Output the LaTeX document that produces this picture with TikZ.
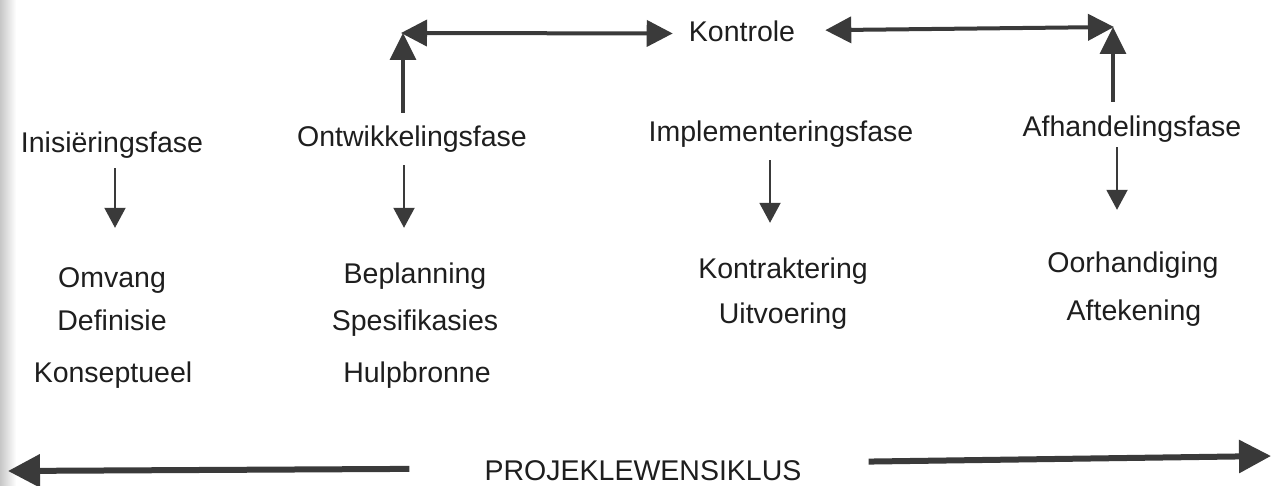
\documentclass[tikz,border=0pt]{standalone}
\usepackage{fontspec}
\setmainfont{Liberation Sans}
\usetikzlibrary{arrows.meta}
\definecolor{ink}{HTML}{1E1E1E}
\definecolor{arr}{HTML}{3A3A3A}
\begin{document}
\begin{tikzpicture}[x=1pt,y=-1pt,
  lbl/.style={anchor=base, inner sep=0pt, text height=21pt, text depth=6pt,
    font=\fontsize{28.5}{34}\selectfont, text=ink},
  darr/.style={draw=arr, line width=2pt, -{Triangle[length=20pt,width=21pt]}},
  uarr/.style={draw=arr, line width=3.5pt, -{Triangle[length=27pt,width=26pt]}},
  karr/.style={draw=arr, line width=4pt,
    {Triangle[length=26pt,width=26pt]}-{Triangle[length=26pt,width=26pt]}},
  barr/.style={draw=arr, line width=6pt, -{Triangle[length=32pt,width=32pt]}}]
\useasboundingbox (0,0) rectangle (1273,486);
\fill[white] (0,0) rectangle (1273,486);
\shade[left color=black!22, right color=white] (0,0) rectangle (16,486);

% phase labels
\node[lbl] (kon) at (742,42) {Kontrole};
\node[lbl] (ini) at (112,153) {Inisiëringsfase};
\node[lbl] (ont) at (412,147) {Ontwikkelingsfase};
\node[lbl] (imp) at (781,142) {Implementeringsfase};
\node[lbl] (afh) at (1132,137) {Afhandelingsfase};

% sub items
\node[lbl] (omv) at (112,287) {Omvang};
\node[lbl] (def) at (112,330) {Definisie};
\node[lbl] (kos) at (113,382) {Konseptueel};
\node[lbl] (bep) at (415,283) {Beplanning};
\node[lbl] (spe) at (415,330) {Spesifikasies};
\node[lbl] (hul) at (417,382) {Hulpbronne};
\node[lbl] (kot) at (783,278) {Kontraktering};
\node[lbl] (uit) at (783,323) {Uitvoering};
\node[lbl] (oor) at (1133,272) {Oorhandiging};
\node[lbl] (aft) at (1134,320) {Aftekening};

\node[lbl] (proj) at (643,480) {PROJEKLEWENSIKLUS};

% free ends
\coordinate (cl) at (401,33);
\coordinate (cr) at (1114,27);
\coordinate (bl) at (8,471);
\coordinate (br) at (1271,456);

% down arrows
\draw[darr, shorten <=9pt, shorten >=38pt] ([xshift=3pt]ini.south) -- ([xshift=3pt]ini.south |- omv.north);
\draw[darr, shorten <=12pt, shorten >=34pt] ([xshift=-8pt]ont.south) -- ([xshift=-8pt]ont.south |- bep.north);
\draw[darr, shorten <=12pt, shorten >=34pt] ([xshift=-11pt]imp.south) -- ([xshift=-11pt]imp.south |- kot.north);
\draw[darr, shorten <=4pt, shorten >=41pt] ([xshift=-15pt]afh.south) -- ([xshift=-15pt]afh.south |- oor.north);

% up arrows to Kontrole line
\draw[uarr, shorten <=13pt] ([xshift=-9pt]ont.north) -- ([xshift=-9pt]ont.north |- cl);
\draw[uarr, shorten <=14pt] ([xshift=-19pt]afh.north) -- ([xshift=-19pt]afh.north |- cr);

% Kontrole arrows
\draw[karr, shorten >=16pt] (cl) -- ([yshift=1pt]kon.west);
\draw[karr, shorten <=30pt] ([yshift=4pt]kon.east) -- (cr);

% life cycle arrows
\draw[barr, shorten <=75pt] ([yshift=4pt]proj.west) -- (bl);
\draw[barr, shorten <=67pt] ([yshift=10pt]proj.east) -- (br);
\end{tikzpicture}
\end{document}
